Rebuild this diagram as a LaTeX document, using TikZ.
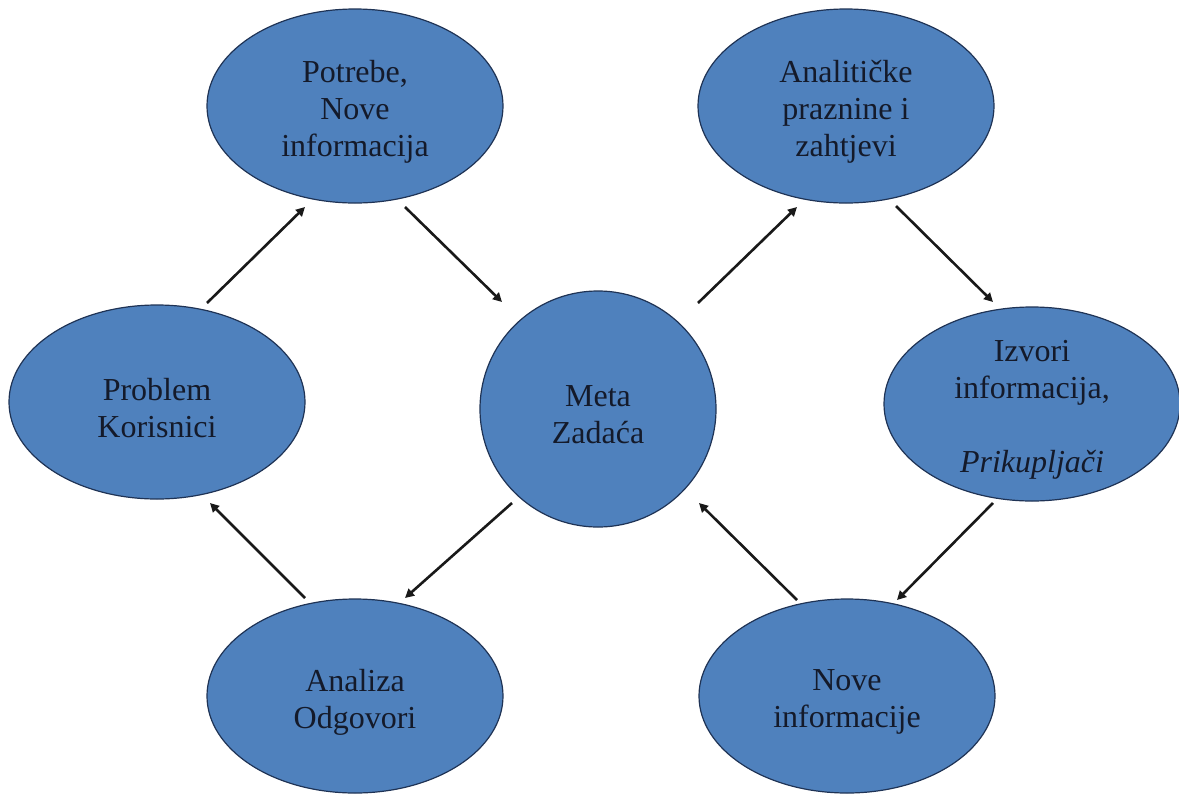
\documentclass[tikz,border=0pt]{standalone}
\usepackage{fontspec}
\setmainfont{Liberation Serif}
\usetikzlibrary{arrows.meta,shapes.geometric}

\definecolor{bubblefill}{HTML}{4F81BD}
\definecolor{bubbleline}{HTML}{1F3355}
\definecolor{inktext}{HTML}{141A2A}

\tikzset{
  bubble/.style={ellipse, draw=bubbleline, line width=1.2pt, fill=bubblefill,
    minimum width=296pt, minimum height=194pt, inner sep=0pt},
  roundbubble/.style={circle, draw=bubbleline, line width=1.2pt, fill=bubblefill,
    minimum size=236pt, inner sep=0pt},
  caption/.style={align=center, text=inktext, inner sep=0pt,
    font=\fontsize{32}{37}\selectfont},
  flow/.style={line width=2.6pt, draw=black!90,
    -{Triangle[length=9pt,width=9pt]}}
}

\begin{document}
\begin{tikzpicture}[x=1pt,y=-1pt]
  \useasboundingbox (0,0) rectangle (1179,796);

  % bubbles
  \node[bubble] (prob) at (157,402) {};
  \node[bubble] (potr) at (355,106) {};
  \node[roundbubble] (meta) at (598,409) {};
  \node[bubble] (anal) at (846,106) {};
  \node[bubble] (izv)  at (1032,404) {};
  \node[bubble] (nove) at (847,696) {};
  \node[bubble] (anza) at (355,696) {};

  % captions
  \node[caption] (prob-t) at ([yshift=-6pt]prob.center) {Problem\\Korisnici};
  \node[caption] (potr-t) at ([yshift=-6pt]potr.center) {Potrebe,\\Nove\\informacija};
  \node[caption] (meta-t) at ([yshift=-6pt]meta.center) {Meta\\Zadaća};
  \node[caption] (anal-t) at ([yshift=-6pt]anal.center) {Analitičke\\praznine i\\zahtjevi};
  \node[caption] (izv-t)  at ([yshift=-6pt]izv.center)  {Izvori\\informacija,\\[37pt]\textit{Prikupljači}};
  \node[caption] (nove-t) at ([yshift=-6pt]nove.center) {Nove\\informacije};
  \node[caption] (anza-t) at ([yshift=-6pt]anza.center) {Analiza\\Odgovori};

  % cycle arrows
  \draw[flow] ([shift={(50,-99)}]prob.center) -- ([shift={(-50,101)}]potr.center);
  \draw[flow] ([shift={(50,101)}]potr.center) -- ([shift={(-96,-107)}]meta.center);
  \draw[flow] ([shift={(100,-106)}]meta.center) -- ([shift={(-49,101)}]anal.center);
  \draw[flow] ([shift={(50,100)}]anal.center) -- ([shift={(-39,-102)}]izv.center);
  \draw[flow] ([shift={(-39,99)}]izv.center) -- ([shift={(50,-96)}]nove.center);
  \draw[flow] ([shift={(-50,-96)}]nove.center) -- ([shift={(101,94)}]meta.center);
  \draw[flow] ([shift={(-86,94)}]meta.center) -- ([shift={(50,-98)}]anza.center);
  \draw[flow] ([shift={(-50,-98)}]anza.center) -- ([shift={(53,101)}]prob.center);
\end{tikzpicture}
\end{document}
